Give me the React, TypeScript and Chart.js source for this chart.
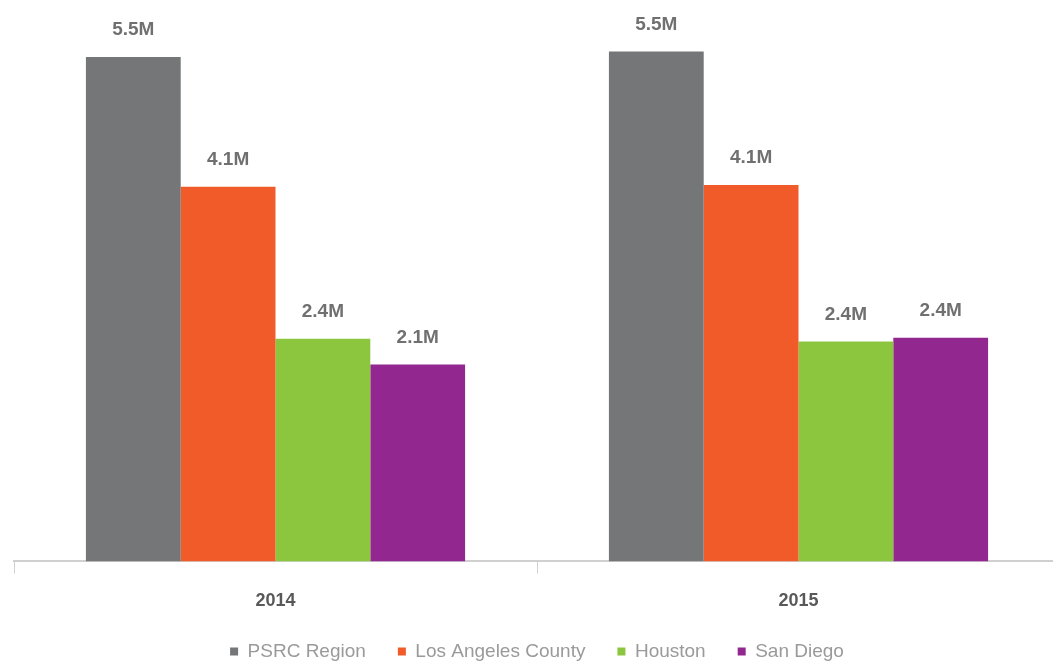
import React, { useEffect, useRef } from "react";
import { Chart, registerables } from "chart.js";

Chart.register(...registerables);

const years = ["2014", "2015"];
const seriesNames = ["PSRC Region", "Los Angeles County", "Houston", "San Diego"];
const psrc = [5.48, 5.54];
const losAngeles = [4.07, 4.09];
const houston = [2.42, 2.39];
const sanDiego = [2.14, 2.43];
const psrcLabels = ["5.5M", "5.5M"];
const losAngelesLabels = ["4.1M", "4.1M"];
const houstonLabels = ["2.4M", "2.4M"];
const sanDiegoLabels = ["2.1M", "2.4M"];
const colors = ["#747678", "#f15a29", "#8cc63f", "#92278f"];

const FONT = "'Liberation Sans', Arial, sans-serif";

const valueLabelPlugin = {
  id: "valueLabels",
  afterLayout(chart: any) {
    const lg = chart.legend;
    if (lg) {
      lg.top -= 19;
      lg.bottom -= 19;
    }
  },
  afterDatasetsDraw(chart: any) {
    const ctx = chart.ctx;
    ctx.save();
    ctx.font = `bold 19px ${FONT}`;
    ctx.fillStyle = "#707070";
    ctx.textAlign = "center";
    ctx.textBaseline = "middle";
    chart.data.datasets.forEach((ds: any, i: number) => {
      const meta = chart.getDatasetMeta(i);
      meta.data.forEach((bar: any, j: number) => {
        ctx.fillText(ds.valueLabels[j], bar.x, bar.y - 27);
      });
    });
    ctx.restore();
  },
};

export default function App() {
  const ref = useRef<HTMLCanvasElement>(null);
  useEffect(() => {
    const all = [psrc, losAngeles, houston, sanDiego];
    const labels = [psrcLabels, losAngelesLabels, houstonLabels, sanDiegoLabels];
    const chart = new Chart(ref.current!, {
      type: "bar",
      data: {
        labels: years,
        datasets: all.map((d, i) => ({
          label: seriesNames[i],
          data: d,
          backgroundColor: colors[i],
          valueLabels: labels[i],
          categoryPercentage: 0.725,
          barPercentage: 1,
        })) as any,
      },
      options: {
        animation: false,
        responsive: false,
        layout: { padding: { left: 14, right: 8, top: 0, bottom: 0 } },
        plugins: {
          tooltip: { enabled: false },
          legend: {
            position: "bottom",
            labels: {
              boxWidth: 8,
              boxHeight: 8,
              padding: 32,
              color: "#9a9a9a",
              font: { family: FONT, size: 19 },
            },
          },
        },
        scales: {
          x: {
            border: { color: "#d0d0d0", width: 2 },
            grid: { drawOnChartArea: false, tickLength: 12, color: "#d0d0d0" },
            ticks: { color: "#595959", font: { family: FONT, size: 18, weight: "bold" }, padding: 17 },
          },
          y: { display: false, min: 0, max: 6.1 },
        },
      },
      plugins: [valueLabelPlugin],
    });
    return () => chart.destroy();
  }, []);
  return (
    <div style={{ position: "fixed", left: 0, top: 0, width: 1053, height: 662, overflow: "hidden", background: "#fff" }}>
      <canvas ref={ref} width={1068} height={690} style={{ display: "block" }} />
    </div>
  );
}
